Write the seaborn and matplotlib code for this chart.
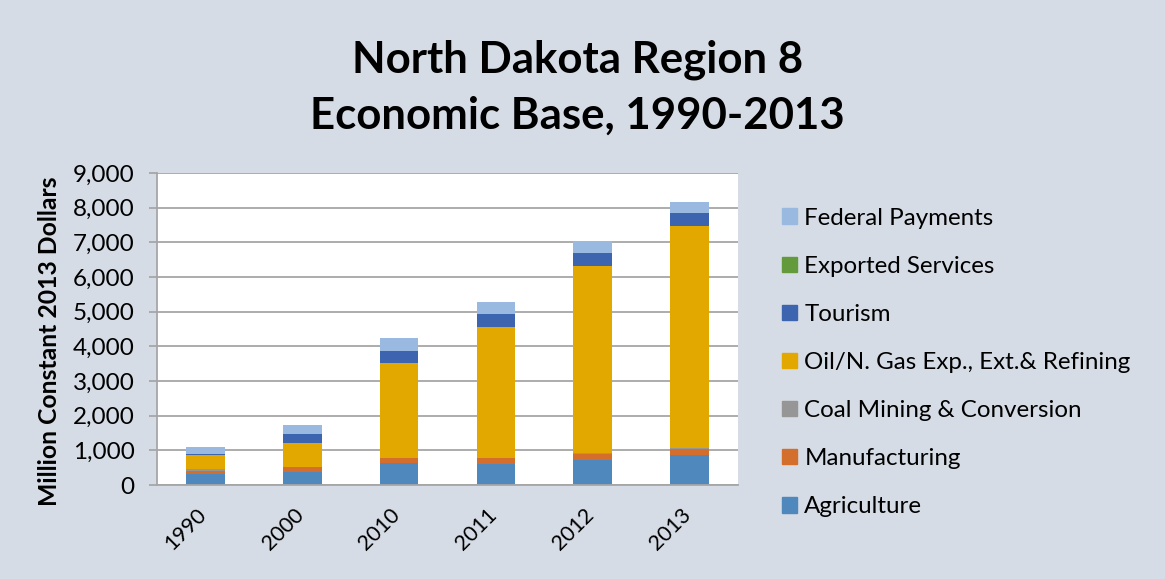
import pandas as pd
import seaborn as sns
import matplotlib.pyplot as plt
import matplotlib.transforms as mtransforms
from matplotlib.patches import Patch

years = ['1990', '2000', '2010', '2011', '2012', '2013']
sectors = ['Agriculture', 'Manufacturing', 'Coal Mining & Conversion',
           'Oil/N. Gas Exp., Ext.& Refining', 'Tourism', 'Exported Services',
           'Federal Payments']

agriculture = [327, 385, 627, 598, 731, 867]
manufacturing = [85, 126, 153, 173, 174, 182]
coal = [40, 10, 10, 10, 10, 10]
oil_gas = [406, 684, 2727, 3766, 5406, 6406]
tourism = [29, 260, 356, 375, 376, 376]
exported = [5, 5, 5, 5, 5, 5]
federal = [215, 255, 350, 353, 341, 324]

colors = ['#4F88BD', '#D46E2C', '#969696', '#E2A800', '#3D64AE', '#629A3C', '#99B9E0']
BG = '#D6DCE5'

df = pd.DataFrame({'Year': years, 'Agriculture': agriculture, 'Manufacturing': manufacturing,
                   'Coal Mining & Conversion': coal, 'Oil/N. Gas Exp., Ext.& Refining': oil_gas,
                   'Tourism': tourism, 'Exported Services': exported,
                   'Federal Payments': federal})
# running totals so the stack can be drawn from top down
cum = df[sectors].cumsum(axis=1)
cum['Year'] = years

sns.set_style('white')
plt.rcParams['font.family'] = ['Lato', 'DejaVu Sans']
plt.rcParams['text.color'] = 'black'
plt.rcParams['axes.labelcolor'] = 'black'
plt.rcParams['xtick.color'] = 'black'
plt.rcParams['ytick.color'] = 'black'

fig = plt.figure(figsize=(11.65, 5.79), dpi=100, facecolor=BG)
ax = fig.add_axes([0.1348, 0.1623, 0.4987, 0.5389])
ax.set_axisbelow(True)

for sec, col in reversed(list(zip(sectors, colors))):
    sns.barplot(data=cum, x='Year', y=sec, color=col, width=0.4, ax=ax,
                saturation=1, linewidth=0, order=years)

ax.set_ylim(0, 9000)
ax.set_yticks(range(0, 9001, 1000))
ax.set_yticklabels([f'{v:,}' for v in range(0, 9001, 1000)], fontsize=17.5)
ax.yaxis.grid(True, color='#A6A6A6', linewidth=1.3)
ax.set_xlim(-0.5, 5.5)
ax.set_xticks(range(6))
ax.set_xticklabels(years, rotation=45, fontsize=15.5, ha='right', rotation_mode='anchor')
ax.tick_params(axis='x', length=0, pad=14)
shift = mtransforms.ScaledTranslation(-9 / 100, 0, fig.dpi_scale_trans)
for lbl in ax.get_xticklabels():
    lbl.set_transform(lbl.get_transform() + shift)
ax.set_xticks([i - 0.5 for i in range(7)], minor=True)
ax.tick_params(axis='x', which='minor', length=6, color='#A6A6A6', width=1.3)
ax.tick_params(axis='y', length=6, color='#A6A6A6', width=1.3, left=True, pad=10,
               labelcolor='black')
ax.set_xlabel('')
ax.set_ylabel('Million Constant 2013 Dollars', fontsize=17.8, fontweight='bold')
ax.yaxis.set_label_coords(-0.165, 0.46)
for s in ['top', 'right']:
    ax.spines[s].set_visible(False)
for s in ['left', 'bottom']:
    ax.spines[s].set_color('#A6A6A6')
    ax.spines[s].set_linewidth(1.3)

fig.text(0.4957, 0.896, 'North Dakota Region 8', ha='center', va='center',
         fontsize=31.5, fontweight='bold')
fig.text(0.4957, 0.801, 'Economic Base, 1990-2013', ha='center', va='center',
         fontsize=31.5, fontweight='bold')

handles = [Patch(color=c, label=s) for s, c in zip(sectors, colors)][::-1]
fig.legend(handles=handles, loc='upper left', bbox_to_anchor=(0.661, 0.662),
           frameon=False, fontsize=17.4, handlelength=0.62, handleheight=0.62,
           handletextpad=0.3, labelspacing=1.12, borderpad=0)

fig.savefig('out.png', dpi=100, facecolor=BG)
